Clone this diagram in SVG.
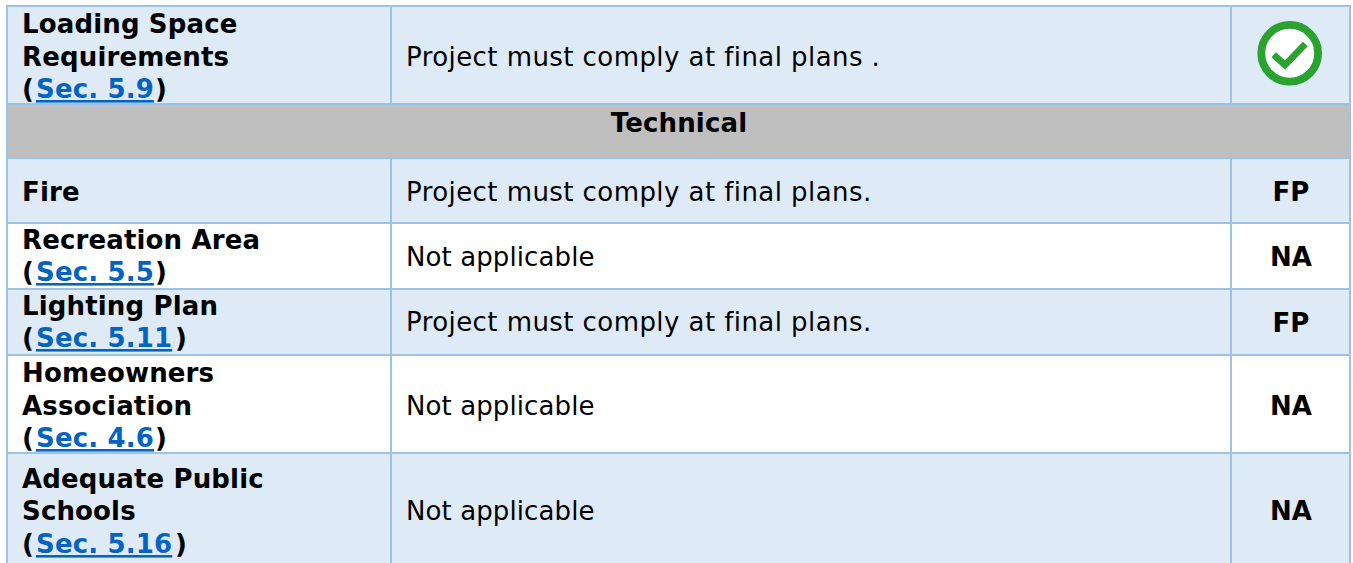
<svg xmlns="http://www.w3.org/2000/svg" width="1353" height="563" viewBox="0 0 1353 563">
<style>
text{font-family:Verdana,"DejaVu Sans",sans-serif;font-size:26px;fill:#000}
.r{letter-spacing:.43px}
.n{letter-spacing:.1px}
.b{font-weight:700;letter-spacing:.15px}
.l{fill:#0563c1;text-decoration:underline}
.c{text-anchor:middle}
.g{stroke:#9cc2e5;stroke-width:2;fill:none}
</style>
<rect width="1353" height="563" fill="#fff"/>
<g id="row-loading"><rect x="6" y="6" width="1344" height="98" fill="#deeaf6"/>
<text class="b" x="22" y="33">Loading Space</text><text class="b" x="22" y="66">Requirements</text><text class="b" x="22" y="98">(</text><text class="b l" x="36" y="98">Sec. 5.9</text><text class="b" x="155" y="98">)</text>
<text class="r" x="406" y="66">Project must comply at final plans .</text>
<circle cx="1289.7" cy="53.3" r="28.4" fill="#fff" stroke="#2aa22f" stroke-width="7.8"/><path d="M1273.7 54.7L1285 65L1305.3 44" fill="none" stroke="#2aa22f" stroke-width="6.7"/></g>
<g id="row-technical"><rect x="6" y="104" width="1344" height="54" fill="#bfbfbf"/><text class="b c" x="679" y="132">Technical</text></g>
<g id="row-fire"><rect x="6" y="158" width="1344" height="65" fill="#deeaf6"/><text class="b" x="22" y="201">Fire</text><text class="r" x="406" y="201">Project must comply at final plans.</text><text class="b c" x="1291" y="201">FP</text></g>
<g id="row-recreation"><text class="b" x="22" y="249">Recreation Area</text><text class="b" x="22" y="281">(</text><text class="b l" x="36" y="281">Sec. 5.5</text><text class="b" x="155" y="281">)</text><text class="n" x="406" y="266">Not applicable</text><text class="b c" x="1291" y="266">NA</text></g>
<g id="row-lighting"><rect x="6" y="289" width="1344" height="66" fill="#deeaf6"/><text class="b" x="22" y="315">Lighting Plan</text><text class="b" x="22" y="347">(</text><text class="b l" x="36" y="347">Sec. 5.11</text><text class="b" x="175" y="347">)</text><text class="r" x="406" y="331">Project must comply at final plans.</text><text class="b c" x="1291" y="332">FP</text></g>
<g id="row-hoa"><text class="b" x="22" y="382">Homeowners</text><text class="b" x="22" y="415">Association</text><text class="b" x="22" y="447">(</text><text class="b l" x="36" y="447">Sec. 4.6</text><text class="b" x="155" y="447">)</text><text class="n" x="406" y="415">Not applicable</text><text class="b c" x="1291" y="415">NA</text></g>
<g id="row-schools"><rect x="6" y="453" width="1344" height="110" fill="#deeaf6"/><text class="b" x="22" y="488">Adequate Public</text><text class="b" x="22" y="520">Schools</text><text class="b" x="22" y="553">(</text><text class="b l" x="36" y="553">Sec. 5.16</text><text class="b" x="175" y="553">)</text><text class="n" x="406" y="520">Not applicable</text><text class="b c" x="1291" y="520">NA</text></g>
<g id="connectors" class="g"><path d="M6 6H1351M6 104H1351M6 158H1351M6 223H1351M6 289H1351M6 355H1351M6 453H1351M7 5V563M1350 5V563M391 6V104M1231 6V104M391 158V563M1231 158V563"/></g>
</svg>
